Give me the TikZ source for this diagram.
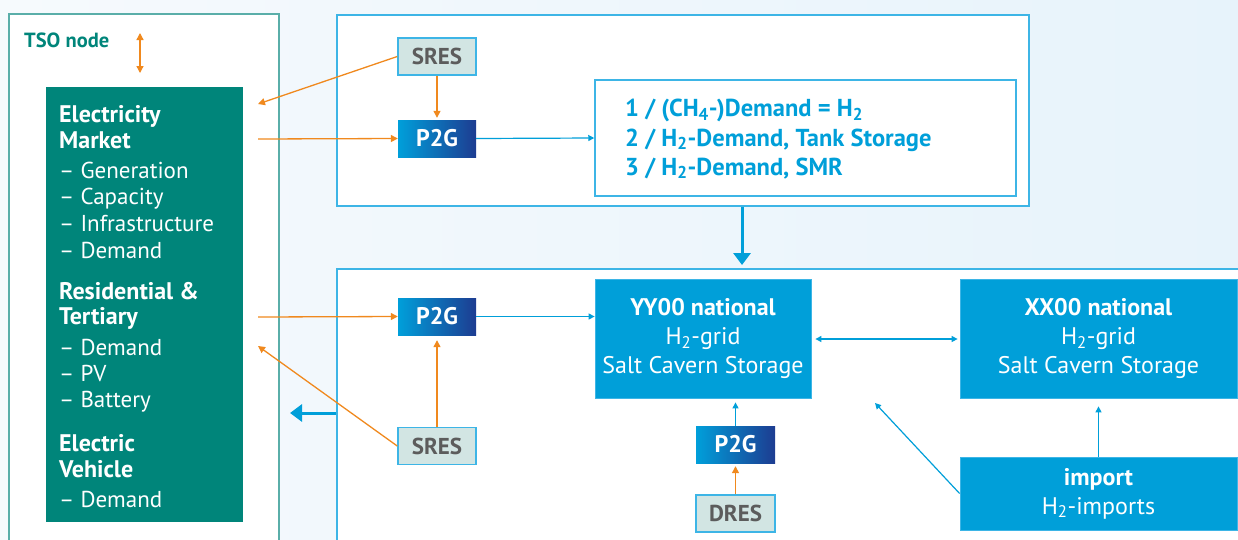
\documentclass[tikz,border=0pt]{standalone}
\usepackage{fontspec}
\setmainfont{PT Sans}
\usetikzlibrary{arrows.meta}
\definecolor{bgL}{HTML}{F6FAFD}
\definecolor{bgR}{HTML}{E7F3FB}
\definecolor{tealbox}{HTML}{00857A}
\definecolor{tealline}{HTML}{5AAEA9}
\definecolor{tsoteal}{HTML}{00857A}
\definecolor{hblue}{HTML}{009FD9}
\definecolor{lblue}{HTML}{3DB5E6}
\definecolor{orng}{HTML}{F0891E}
\definecolor{sresfill}{HTML}{D2E5E3}
\definecolor{sresgray}{HTML}{5C5C5C}
\definecolor{p2gL}{HTML}{009FDA}
\definecolor{p2gR}{HTML}{1D3C91}
\tikzset{
  frame/.style={draw=lblue, line width=1.5pt, fill=white},
  resbox/.style={draw=lblue, line width=1.5pt, fill=sresfill, text=sresgray,
    font=\bfseries\fontsize{23}{24}\selectfont, minimum width=78pt, minimum height=37pt, inner sep=0pt},
  ptgbox/.style={left color=p2gL, right color=p2gR, text=white,
    font=\bfseries\fontsize{24}{24}\selectfont, minimum width=78pt, minimum height=37pt, inner sep=0pt},
  gridbox/.style={fill=hblue, draw=lblue, line width=0.8pt, text=white, align=center,
    font=\fontsize{24}{29}\selectfont, inner sep=0pt},
  tl/.style={anchor=base west, text=white, font=\fontsize{23}{26}\selectfont, inner sep=0pt},
  tlb/.style={tl, font=\bfseries\fontsize{24}{26}\selectfont},
  dtext/.style={anchor=base west, text=hblue, font=\bfseries\fontsize{24.5}{29}\selectfont, inner sep=0pt},
  oarr/.style={draw=orng, line width=1.3pt, -{Triangle[length=7pt,width=7pt]}},
  barr/.style={draw=hblue, line width=1.2pt, -{Triangle[length=6pt,width=6pt]}},
  bigarr/.style={draw=hblue, line width=3pt, -{Triangle[length=12pt,width=17pt]}},
}
\begin{document}
\begin{tikzpicture}[x=1pt,y=-1pt]
\useasboundingbox (0,0) rectangle (1238,539);
\clip (0,0) rectangle (1238,539);
\shade[left color=bgL, right color=bgR] (0,0) rectangle (1238,539);

% frames
\draw[draw=tealline, line width=1.5pt, fill=white] (9,14) rectangle (279,560);
\node[frame, minimum width=692pt, minimum height=191pt, anchor=north west, inner sep=0pt] (topframe) at (336,14) {};
\node[frame, minimum width=920pt, minimum height=290pt, anchor=north west, inner sep=0pt] (botframe) at (336,268) {};

% TSO node
\node[anchor=base west, text=tsoteal, font=\bfseries\fontsize{20.5}{22}\selectfont, inner sep=0pt] (tso) at (24,47) {TSO node};
\coordinate (tsoa) at (140,33);
\coordinate (tsob) at (140,73);
\draw[draw=orng, line width=1.3pt, {Triangle[length=7pt,width=7pt]}-{Triangle[length=7pt,width=7pt]}] (tsoa) -- (tsob);

% teal box
\node[fill=tealbox, minimum width=197pt, minimum height=435pt, anchor=north west, inner sep=0pt] (market) at (46,87) {};
\node[tlb] (l1) at (59,122) {Electricity};
\node[tlb] (l2) at (59,148) {Market};
\node[tl] (l3) at (59,178) {– Generation};
\node[tl] (l4) at (59,204) {– Capacity};
\node[tl] (l5) at (59,231) {– Infrastructure};
\node[tl] (l6) at (59,258) {– Demand};
\node[tlb] (l7) at (59,299) {Residential \&};
\node[tlb] (l8) at (59,324) {Tertiary};
\node[tl] (l9) at (59,355) {– Demand};
\node[tl] (l10) at (59,381) {– PV};
\node[tl] (l11) at (59,407) {– Battery};
\node[tlb] (l12) at (59,451) {Electric};
\node[tlb] (l13) at (59,477) {Vehicle};
\node[tl] (l14) at (59,507) {– Demand};

% top region
\node[resbox] (sres1) at (437,56.5) {SRES};
\node[ptgbox] (p2g1) at (437,138.5) {P2G};
\node[draw=lblue, line width=1.5pt, fill=white, minimum width=421pt, minimum height=116pt, inner sep=0pt] (demand) at (805.5,138) {};
\node[dtext] (d1) at (625,116.5) {1 / (CH\textsubscript{4}-)Demand = H\textsubscript{2}};
\node[dtext] (d2) at (625,146) {2 / H\textsubscript{2}-Demand, Tank Storage};
\node[dtext] (d3) at (625,175) {3 / H\textsubscript{2}-Demand, SMR};

\coordinate (em1) at (258,104);
\coordinate (em2) at (258,139);
\coordinate (rt1) at (258,317);
\coordinate (rt2) at (258,346);

\draw[oarr] (sres1.west) -- (em1);
\draw[oarr] (em2) -- (p2g1.west);
\draw[oarr] (sres1.south) -- ([yshift=2pt]p2g1.north);
\draw[barr] (p2g1.east) -- (demand.west);
\draw[bigarr] (topframe.south -| 742,0) -- (742,265);

% bottom region
\node[ptgbox] (p2g2) at (437,316.5) {P2G};
\node[resbox] (sres2) at (437,446) {SRES};
\node[gridbox, minimum width=216pt, minimum height=119pt] (yy) at (703,338.5) {\textbf{YY00 national}\\H\textsubscript{2}-grid\\Salt Cavern Storage};
\node[gridbox, minimum width=277pt, minimum height=119pt] (xx) at (1098.5,338.5) {\textbf{XX00 national}\\H\textsubscript{2}-grid\\Salt Cavern Storage};
\node[ptgbox, minimum width=79pt] (p2g3) at (735.5,444.5) {P2G};
\node[resbox, minimum width=79pt] (dres) at (735.5,513.5) {DRES};
\node[gridbox, minimum width=277pt, minimum height=73pt] (imp) at (1098.5,493.5) {\textbf{import}\\H\textsubscript{2}-imports};

\draw[oarr] (rt1) -- (p2g2.west);
\draw[barr] (p2g2.east) -- (p2g2.east -| yy.west);
\draw[oarr] (sres2.north) -- ([yshift=-5pt]p2g2.south);
\draw[oarr] (sres2.west) -- (rt2);
\coordinate (leftend) at (290,413);
\draw[bigarr] (botframe.west |- leftend) -- (leftend);
\draw[barr] (p2g3.north) -- ([yshift=-4pt]yy.south -| p2g3.north);
\draw[oarr] (dres.north) -- ([yshift=-3pt]p2g3.south);
\draw[draw=hblue, line width=1.2pt, {Triangle[length=6pt,width=6pt]}-{Triangle[length=6pt,width=6pt]}] ([xshift=4pt]yy.east |- 0,339) -- ([xshift=-2pt]xx.west |- 0,339);
\draw[barr] (imp.north) -- ([yshift=-8pt]xx.south -| imp.north);
\coordinate (yyse) at (875,403);
\draw[barr] (imp.west) -- (yyse);
\end{tikzpicture}
\end{document}
